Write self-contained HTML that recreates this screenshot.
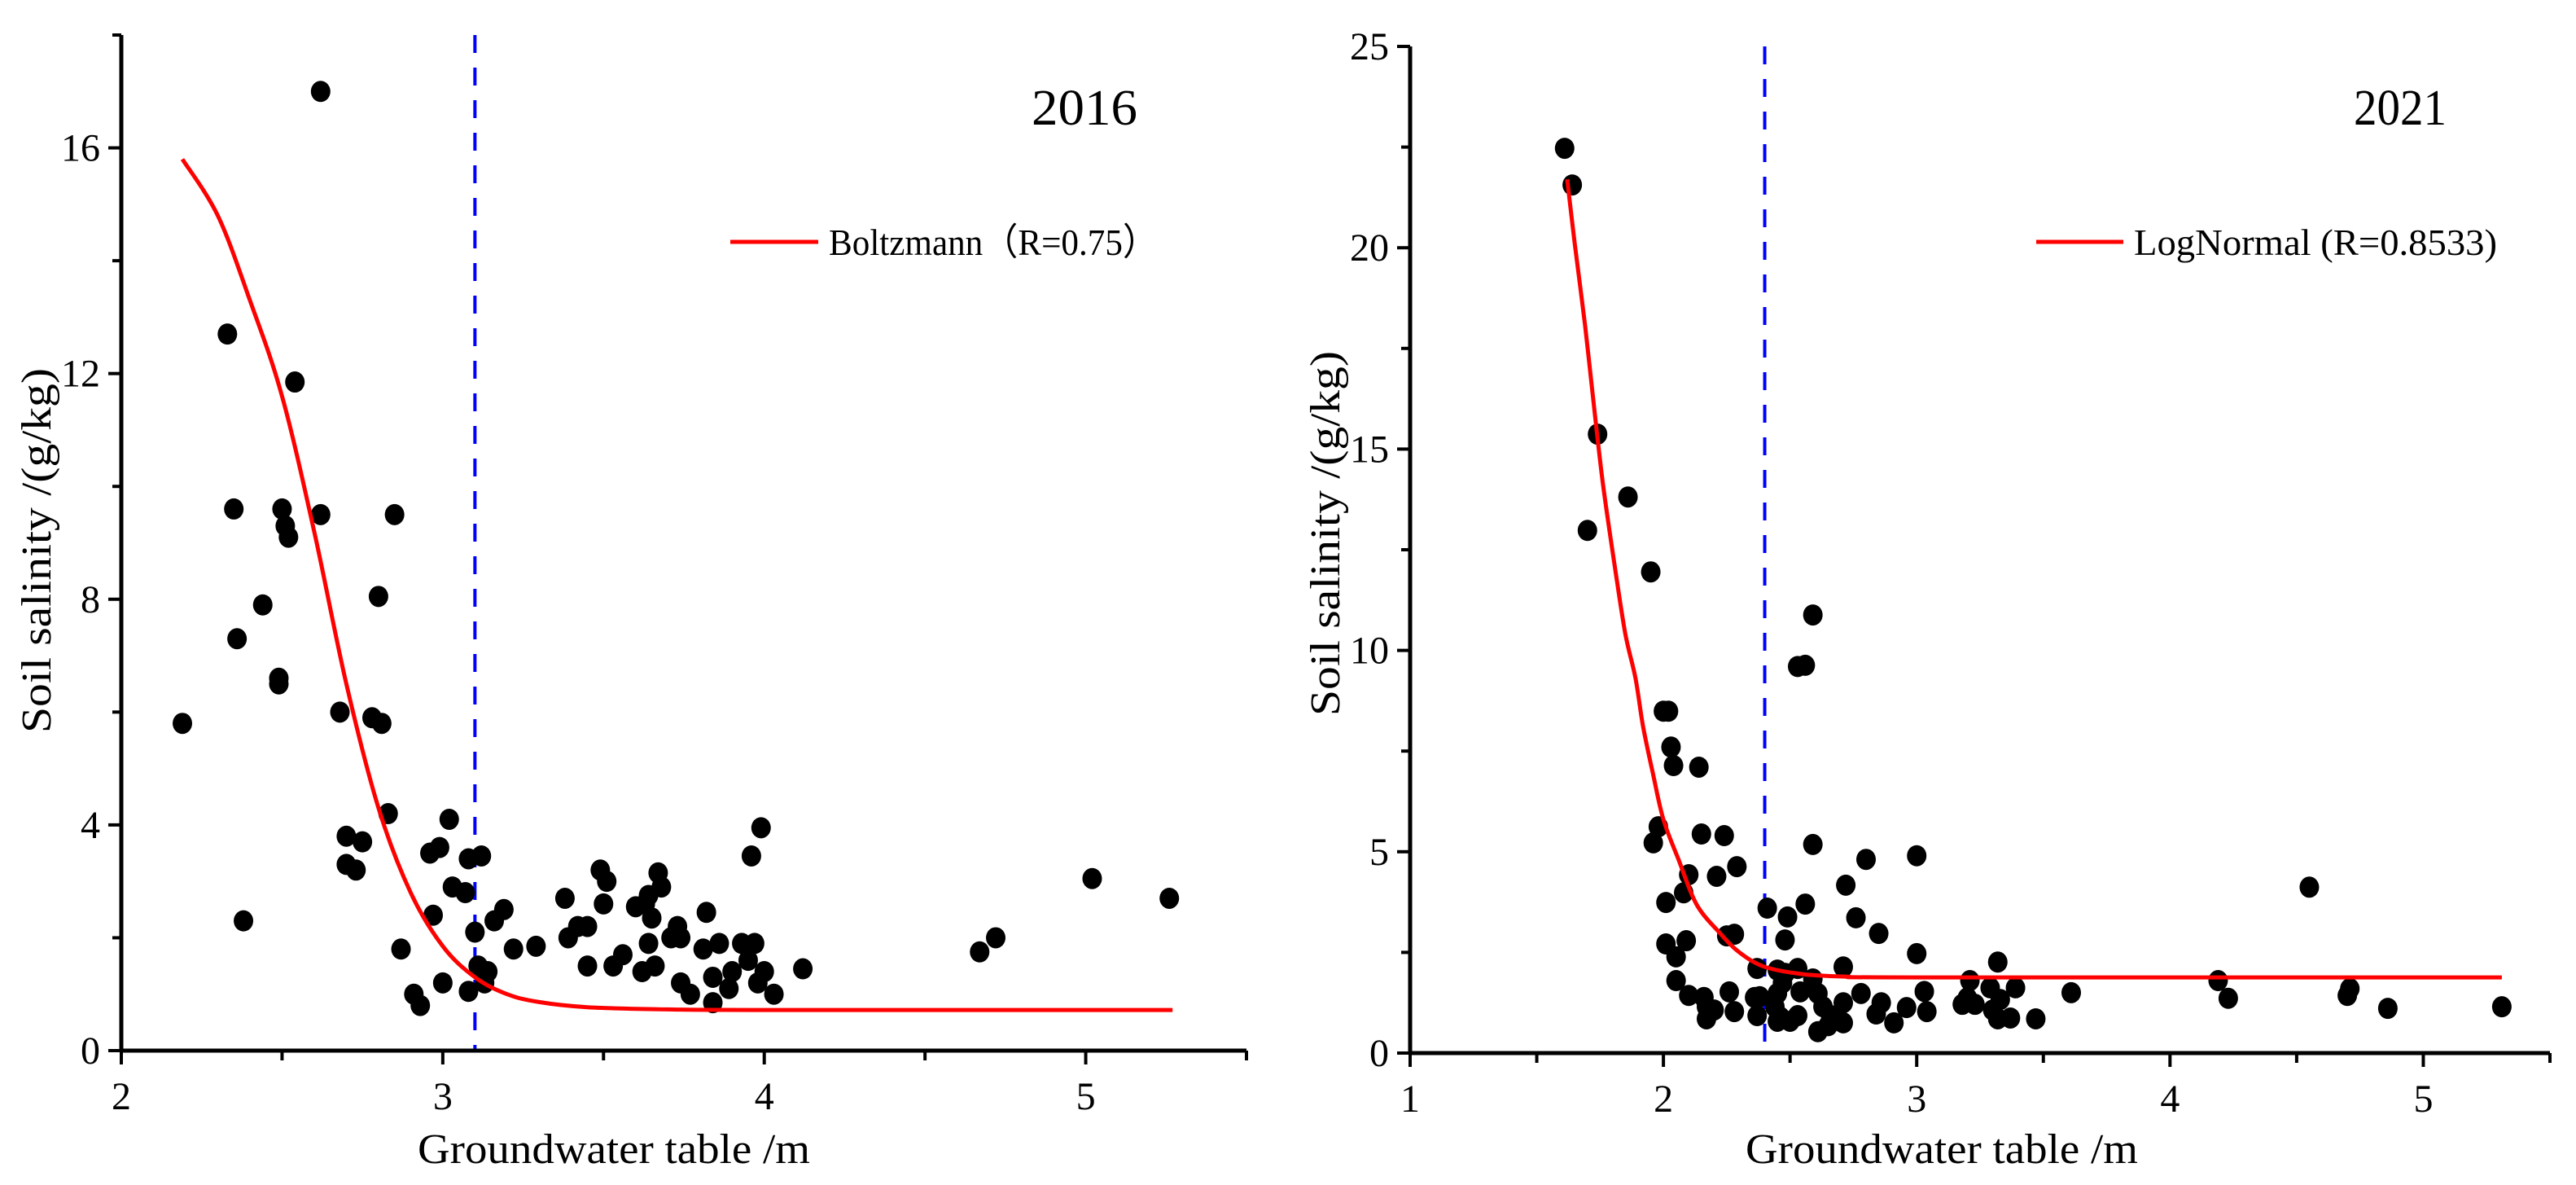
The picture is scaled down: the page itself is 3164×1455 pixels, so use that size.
<!DOCTYPE html>
<html><head><meta charset="utf-8"><style>
html,body{margin:0;padding:0;background:#fff;}
svg{display:block;}
text{font-family:"Liberation Serif","Times New Roman",serif;fill:#000;}
</style></head><body>
<svg id="chart" width="3164" height="1455" viewBox="0 0 3164 1455" xmlns="http://www.w3.org/2000/svg"></svg>
<script>
// ---------- 2016 data ----------
const x2016 = [2.19,2.33,2.35,2.36,2.38,2.44,2.50,2.51,2.52,2.49,2.49,2.54,2.62,2.62,2.68,2.70,2.70,2.73,2.75,2.78,2.80,2.81,2.83,2.85,2.87,2.91,2.93,2.96,2.97,2.99,3.0,3.02,3.03,3.07,3.08,3.08,3.10,3.11,3.12,3.13,3.14,3.16,3.19,3.22,3.29,3.38,3.39,3.42,3.45,3.45,3.49,3.50,3.51,3.53,3.56,3.60,3.62,3.63,3.64,3.64,3.65,3.66,3.67,3.68,3.71,3.73,3.74,3.74,3.77,3.81,3.82,3.84,3.84,3.86,3.89,3.90,3.93,3.95,3.96,3.97,3.98,3.99,4.0,4.03,4.12,4.67,4.72,5.02,5.26];
const y2016 = [5.8,12.7,9.6,7.3,2.3,7.9,9.6,9.3,9.1,6.6,6.5,11.85,17.0,9.5,6.0,3.8,3.3,3.2,3.7,5.9,8.05,5.8,4.2,9.5,1.8,1.0,0.8,3.5,2.4,3.6,1.2,4.1,2.9,2.8,1.05,3.4,2.1,1.5,3.45,1.2,1.4,2.3,2.5,1.8,1.85,2.7,2.0,2.2,2.2,1.5,3.2,2.6,3.0,1.5,1.7,2.55,1.4,2.6,2.75,1.9,2.35,1.5,3.15,2.9,2.0,2.2,2.0,1.2,1.0,1.8,2.45,1.3,0.85,1.9,1.1,1.4,1.9,1.6,3.45,1.9,1.2,3.95,1.4,1.0,1.45,1.75,2.0,3.05,2.7];
const fitX2016 = [2.19,2.3,2.4,2.5,2.6,2.7,2.8,2.9,3.0,3.1,3.2,3.3,3.45,3.7,4.0,5.27];
const fitY2016 = [15.8,14.8,13.3,11.6,9.2,6.5,4.3,2.8,1.85,1.3,1.0,0.86,0.77,0.73,0.72,0.72];
const xTicks2016 = [2,3,4,5];
const yTicks2016 = [0,4,8,12,16];
const threshold2016 = [3.1];

// ---------- 2021 data ----------
const x2021 = [1.61,1.64,1.74,1.86,1.70,1.95,2.59,2.53,2.56,2.0,2.02,2.03,2.04,2.14,1.98,1.96,2.15,2.24,2.59,2.10,2.21,2.29,2.80,3.0,2.72,2.01,2.08,2.41,2.49,2.56,2.76,2.85,2.01,2.09,2.05,2.25,2.28,2.48,3.0,2.37,2.45,2.53,2.71,2.05,2.59,2.47,2.26,2.10,2.16,2.36,2.45,2.54,2.61,2.78,3.03,2.17,2.20,2.28,2.37,2.44,2.45,2.50,2.53,2.63,2.66,2.71,2.71,2.61,2.65,2.17,2.84,2.86,2.91,2.96,3.04,2.38,2.48,2.46,3.21,3.18,3.23,3.20,3.32,3.29,3.33,3.30,3.32,3.37,3.39,3.47,3.61,4.19,4.23,4.55,4.71,4.70,4.86,5.31];
const y2021 = [22.47,21.56,15.37,13.81,12.98,11.95,10.88,9.6,9.63,8.49,8.49,7.6,7.14,7.1,5.62,5.22,5.44,5.4,5.18,4.43,4.39,4.63,4.81,4.9,4.17,3.74,3.98,3.6,3.38,3.7,3.36,2.97,2.71,2.79,2.39,2.91,2.95,2.81,2.47,2.1,2.06,2.1,2.14,1.8,1.84,1.74,1.52,1.43,1.38,1.38,1.48,1.52,1.48,1.48,1.53,1.15,1.07,1.03,0.93,1.15,0.79,0.79,0.93,1.15,0.93,0.75,1.25,0.53,0.68,0.85,0.97,1.25,0.75,1.13,1.03,1.4,1.98,0.9,1.8,1.21,1.21,1.37,2.26,1.62,1.33,1.07,0.85,0.87,1.62,0.85,1.5,1.8,1.36,4.12,1.6,1.43,1.11,1.15];
const fitX2021 = [1.62,1.65,1.69,1.72,1.76,1.81,1.85,1.89,1.92,1.96,2.0,2.06,2.13,2.22,2.3,2.4,2.55,2.72,3.0,5.31];
const fitY2021 = [21.7,20.1,18.1,16.4,14.2,12.0,10.4,9.3,8.1,6.9,5.8,4.8,3.7,3.0,2.5,2.14,1.96,1.9,1.88,1.88];
const xTicks2021 = [1,2,3,4,5];
const yTicks2021 = [0,5,10,15,20,25];
const threshold2021 = [2.4];

const NS = "http://www.w3.org/2000/svg";
const svg = document.getElementById('chart');
function el(tag, attrs, parent){
  const e = document.createElementNS(NS, tag);
  for (const k in attrs) e.setAttribute(k, attrs[k]);
  (parent||svg).appendChild(e);
  return e;
}
function smoothPath(P){
  let d = 'M' + P[0][0].toFixed(1) + ' ' + P[0][1].toFixed(1);
  for (let i = 0; i < P.length - 1; i++){
    const p0 = P[Math.max(i-1,0)], p1 = P[i], p2 = P[i+1], p3 = P[Math.min(i+2,P.length-1)];
    const c1x = p1[0] + (p2[0]-p0[0])/6, c1y = p1[1] + (p2[1]-p0[1])/6;
    const c2x = p2[0] - (p3[0]-p1[0])/6, c2y = p2[1] - (p3[1]-p1[1])/6;
    d += 'C' + c1x.toFixed(1) + ' ' + c1y.toFixed(1) + ' ' + c2x.toFixed(1) + ' ' + c2y.toFixed(1) + ' ' + p2[0].toFixed(1) + ' ' + p2[1].toFixed(1);
  }
  return d;
}

function panel(cfg){
  const g = el('g', {});
  
  
  const sx = v => cfg.px0 + (v - cfg.xmin) / (cfg.xmax - cfg.xmin) * (cfg.px1 - cfg.px0);
  const sy = v => cfg.py0 - (v - cfg.ymin) / (cfg.ymax - cfg.ymin) * (cfg.py0 - cfg.py1);

  const th = el('line', {x1:sx(cfg.thr[0]), x2:sx(cfg.thr[0]), y1:cfg.py1, y2:cfg.py0, stroke:'#0000ff', 'stroke-width':4, 'stroke-dasharray':'22 18'}, g);
  
  

  const pts = el('g', {}, g);
  
  
  for (let i = 0; i < cfg.xs.length; i++){
    const c = el('ellipse', {cx:sx(cfg.xs[i]), cy:sy(cfg.ys[i]), rx:12, ry:13, fill:'#000'}, pts);
    
    
  }

  const P = cfg.fx.map((v, i) => [sx(v), sy(cfg.fy[i])]);
  const fit = el('path', {d:smoothPath(P), fill:'none', stroke:'#ff0000', 'stroke-width':5, 'stroke-linejoin':'round'}, g);
  
  

  const ax = el('line', {x1:cfg.px0-2, x2:cfg.px1, y1:cfg.py0, y2:cfg.py0, stroke:'#000', 'stroke-width':5}, g);
  
  
  const ay = el('line', {x1:cfg.px0, x2:cfg.px0, y1:cfg.py1, y2:cfg.py0+2, stroke:'#000', 'stroke-width':5}, g);
  
  

  for (let v = cfg.xmin; v <= cfg.xmax + 1e-9; v += 0.5){
    const major = Math.abs(v - Math.round(v)) < 1e-9;
    el('line', {x1:sx(v), x2:sx(v), y1:cfg.py0, y2:cfg.py0 + (major ? 17 : 12), stroke:'#000', 'stroke-width':4}, g);
  }
  cfg.xt.forEach(v => {
    const t = el('text', {x:sx(v), y:cfg.py0 + 72, 'font-size':48, 'text-anchor':'middle'}, g);
    t.textContent = v;
    
    
  });
  const step = cfg.yt[1] - cfg.yt[0];
  for (let v = cfg.ymin; v <= cfg.ymax + 1e-9; v += step/2){
    const major = Math.abs((v / step) - Math.round(v / step)) < 1e-9;
    el('line', {x1:cfg.px0 - (major ? 16 : 11), x2:cfg.px0, y1:sy(v), y2:sy(v), stroke:'#000', 'stroke-width':4}, g);
  }
  cfg.yt.forEach(v => {
    const t = el('text', {x:cfg.px0 - 26, y:sy(v) + 16, 'font-size':48, 'text-anchor':'end'}, g);
    t.textContent = v;
    
    
  });

  const xt = el('text', {x:cfg.xtitleX, y:1428, 'font-size':52, 'text-anchor':'middle', textLength:482, lengthAdjust:'spacingAndGlyphs'}, g);
  xt.textContent = 'Groundwater table /m';
  
  
  const yt = el('text', {x:0, y:0, 'font-size':52, 'text-anchor':'middle', textLength:448, lengthAdjust:'spacingAndGlyphs', transform:'translate(' + cfg.ytitleX + ',' + cfg.ytitleY + ') rotate(-90)'}, g);
  yt.textContent = 'Soil salinity /(g/kg)';
  
  

  const yr = el('text', {x:cfg.yearX, y:153, 'font-size':62, 'text-anchor':'start', textLength:cfg.yearW, lengthAdjust:'spacingAndGlyphs'}, g);
  yr.textContent = cfg.year;
  
  

  const lg = el('g', {}, g);
  
  
  const ll = el('line', {x1:cfg.legX, x2:cfg.legX + cfg.legLine, y1:297, y2:297, stroke:'#ff0000', 'stroke-width':5}, lg);
  
  
  const lt = el('text', {x:cfg.legX + cfg.legLine + 13, y:313, 'font-size':46, textLength:cfg.legW, lengthAdjust:'spacingAndGlyphs'}, lg);
  lt.textContent = cfg.legText;
  
  
}

panel({name:'panel-2016', xs:x2016, ys:y2016, fx:fitX2016, fy:fitY2016, xt:xTicks2016, yt:yTicks2016, thr:threshold2016,
  xmin:2, xmax:5.5, ymin:0, ymax:18, px0:149, px1:1531, py0:1290, py1:43,
  xtitleX:754, ytitleX:62, ytitleY:676, year:'2016', yearX:1267, yearW:130,
  legX:897, legLine:108, legText:'Boltzmann（R=0.75）', legW:404});
panel({name:'panel-2021', xs:x2021, ys:y2021, fx:fitX2021, fy:fitY2021, xt:xTicks2021, yt:yTicks2021, thr:threshold2021,
  xmin:1, xmax:5.5, ymin:0, ymax:25, px0:1732, px1:3132, py0:1293, py1:57,
  xtitleX:2385, ytitleX:1645, ytitleY:655, year:'2021', yearX:2891, yearW:114,
  legX:2501, legLine:107, legText:'LogNormal (R=0.8533)', legW:446});
</script>
</body></html>
